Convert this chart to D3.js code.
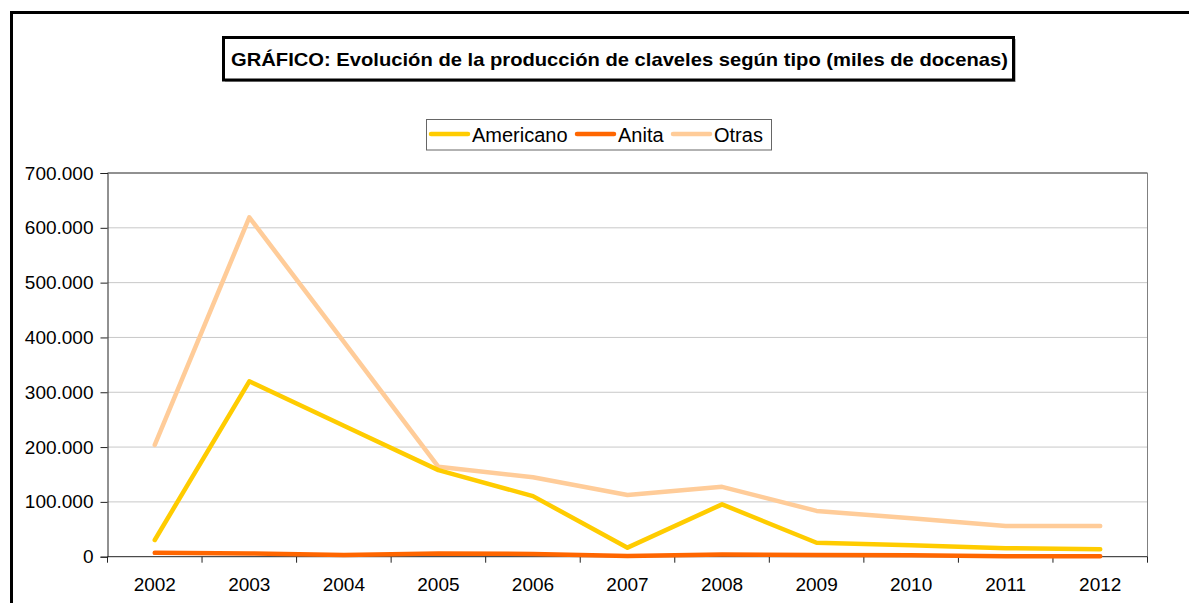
<!DOCTYPE html>
<html lang="es">
<head>
  <meta charset="UTF-8">
  <title>Evolución de la producción de claveles</title>
  <style>
    body { margin: 0; background: #fff; }
    svg { display: block; font-family: Arial, "Liberation Sans", sans-serif; }
  </style>
</head>
<body>
  <script src="https://cdn.jsdelivr.net/npm/d3@7/dist/d3.min.js"></script>
  <script>
    // datos (miles de docenas)
    const years = ['2002', '2003', '2004', '2005', '2006', '2007', '2008', '2009', '2010', '2011', '2012'];
    const americano = [30500, 320000, 239000, 158000, 110500, 16500, 95500, 25500, 21000, 15500, 13500];
    const anita = [7000, 6000, 3000, 6000, 5000, 1500, 4000, 3000, 2500, 1000, 1000];
    const otras = [204000, 619000, 392000, 164000, 145000, 112500, 127500, 83500, 70000, 56000, 56000];
    const yTicks = [0, 100000, 200000, 300000, 400000, 500000, 600000, 700000];
    const seriesNames = ['Americano', 'Anita', 'Otras'];
    const seriesColors = ['#FFCC00', '#FF6600', '#FFCC99'];
    const titleText = 'GRÁFICO: Evolución de la producción de claveles según tipo (miles de docenas)';

    const W = 1189, H = 603;
    const plot = { left: 107.5, top: 173, right: 1147.5, bottom: 556.7 };
    const FS = 19;

    const svg = d3.select('body').append('svg').attr('width', W).attr('height', H);

    // marco exterior
    svg.append('rect')
      .attr('x', 11.5).attr('y', 12.5).attr('width', W + 20).attr('height', H + 20)
      .attr('fill', '#fff').attr('stroke', '#000').attr('stroke-width', 3);

    const es = d3.formatLocale({ decimal: ',', thousands: '.', grouping: [3], currency: ['', '€'] });
    const fmt = es.format(',');

    const x = d3.scaleBand().domain(years).range([plot.left, plot.right]);
    const y = d3.scaleLinear().domain([0, 700000]).range([plot.bottom, plot.top]);

    // rejilla
    svg.append('g').selectAll('line').data(yTicks.filter(d => d > 0 && d < 700000)).enter()
      .append('line')
      .attr('x1', plot.left).attr('x2', plot.right)
      .attr('y1', d => y(d)).attr('y2', d => y(d))
      .attr('stroke', '#c8c8c8').attr('stroke-width', 1);

    // bordes del área de trazado
    svg.append('line').attr('x1', plot.left).attr('x2', plot.right)
      .attr('y1', plot.top).attr('y2', plot.top).attr('stroke', '#222');
    svg.append('line').attr('x1', plot.right).attr('x2', plot.right)
      .attr('y1', plot.top).attr('y2', plot.bottom).attr('stroke', '#808080');

    // eje Y
    const yAxis = svg.append('g').attr('transform', `translate(${plot.left},0)`)
      .call(d3.axisLeft(y).tickValues(yTicks).tickFormat(d => d === 0 ? '0' : fmt(d)).tickSize(7).tickPadding(7));
    yAxis.select('.domain').attr('stroke', '#222');
    yAxis.selectAll('.tick line').attr('stroke', '#222');
    yAxis.selectAll('text').attr('font-size', FS).attr('fill', '#000')
      .attr('font-family', 'Arial, "Liberation Sans", sans-serif');

    // eje X (marcas entre categorías)
    const xAxis = svg.append('g').attr('transform', `translate(0,${plot.bottom})`);
    xAxis.append('line').attr('x1', plot.left).attr('x2', plot.right).attr('stroke', '#222');
    const bounds = years.map(d => x(d)).concat([plot.right]);
    xAxis.selectAll('line.tk').data(bounds).enter().append('line').attr('class', 'tk')
      .attr('x1', d => d).attr('x2', d => d).attr('y1', 0).attr('y2', 6).attr('stroke', '#222');
    xAxis.selectAll('text').data(years).enter().append('text')
      .attr('x', d => x(d) + x.bandwidth() / 2).attr('y', 34)
      .attr('text-anchor', 'middle').attr('font-size', FS).text(d => d);

    // líneas
    const line = d3.line().x((d, i) => x(years[i]) + x.bandwidth() / 2).y(d => y(d));
    [otras, americano, anita].forEach((s, k) => {
      const idx = [2, 0, 1][k];
      svg.append('path').datum(s).attr('d', line)
        .attr('fill', 'none').attr('stroke', seriesColors[idx])
        .attr('stroke-width', 4.5).attr('stroke-linejoin', 'round').attr('stroke-linecap', 'round');
    });

    // título
    svg.append('rect').attr('x', 225).attr('y', 39).attr('width', 791).attr('height', 43).attr('fill', '#bbb');
    svg.append('rect').attr('x', 223.5).attr('y', 37.5).attr('width', 790).attr('height', 42.5)
      .attr('fill', '#fff').attr('stroke', '#000').attr('stroke-width', 3);
    svg.append('text').attr('x', 231).attr('y', 65.5)
      .attr('font-size', 19).attr('font-weight', 'bold')
      .attr('textLength', 777).attr('lengthAdjust', 'spacingAndGlyphs').text(titleText);

    // leyenda
    const leg = svg.append('g');
    leg.append('rect').attr('x', 426.5).attr('y', 119.5).attr('width', 345).attr('height', 30.5)
      .attr('fill', '#fff').attr('stroke', '#666');
    const legX = [431, 577, 673];
    seriesNames.forEach((n, i) => {
      leg.append('line').attr('x1', legX[i]).attr('x2', legX[i] + 37).attr('y1', 134).attr('y2', 134)
        .attr('stroke', seriesColors[i]).attr('stroke-width', 4.5).attr('stroke-linecap', 'round');
      leg.append('text').attr('x', legX[i] + 41).attr('y', 142).attr('font-size', 20).text(n);
    });
  </script>
</body>
</html>
